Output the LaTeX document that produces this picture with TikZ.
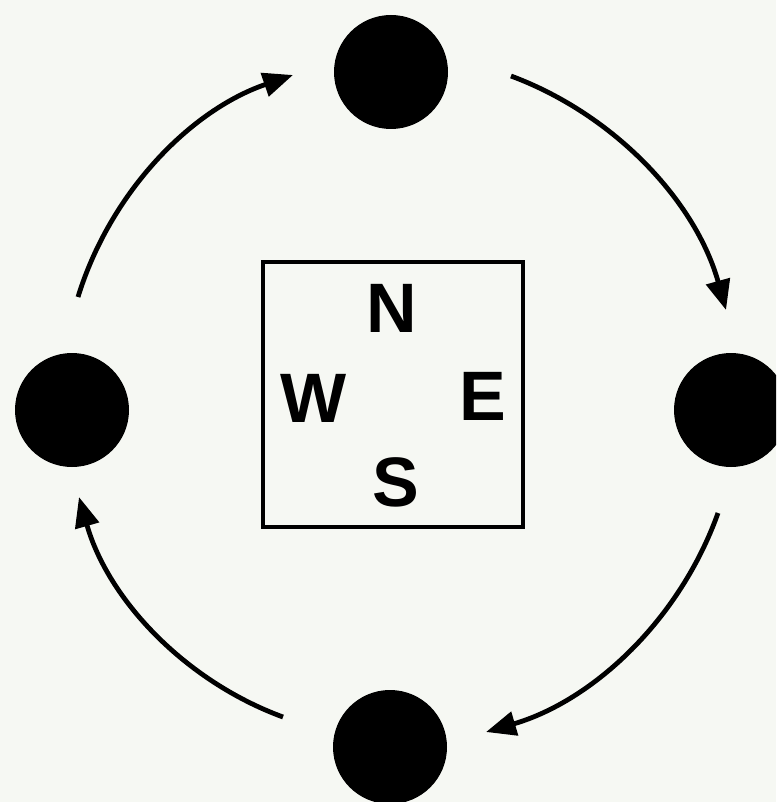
\documentclass[tikz,border=0pt]{standalone}
\usepackage{fontspec}
\setmainfont{Liberation Sans}
\usetikzlibrary{arrows.meta}
\definecolor{bg}{RGB}{246,248,243}
\begin{document}
\begin{tikzpicture}[x=1pt,y=-1pt,
  dot/.style={circle,fill=black,minimum size=114pt,inner sep=0pt},
  letter/.style={font=\fontsize{70}{70}\selectfont\bfseries,inner sep=0pt},
  cyc/.style={line width=4.8pt,-{Triangle[length=30pt,width=24pt]},bend left=27,looseness=0.9},
  frame/.style={draw,line width=3.5pt,fill=none}]
\useasboundingbox (0,0) rectangle (776,802);
\clip (0,0) rectangle (776,802);
\fill[bg] (0,0) rectangle (776,802);
% circles
\node[dot] (top) at (391,72) {};
\node[dot] (left) at (72,410) {};
\node[dot] (right) at (731,410) {};
\node[dot] (bottom) at (390,747) {};
% compass box
\node[frame,minimum width=260pt,minimum height=265pt] (box) at (393,394.5) {};
\node[letter] (n) at (392,308) {N};
\node[letter] (w) at (314,398) {W};
\node[letter] (e) at (483,396) {E};
\node[letter] (s) at (396,482) {S};
% arrow endpoints
\coordinate (a1) at (78,297);
\coordinate (a2) at (293,75);
\coordinate (b1) at (511,76);
\coordinate (b2) at (726,310);
\coordinate (c1) at (718,513);
\coordinate (c2) at (486,732);
\coordinate (d1) at (283,717);
\coordinate (d2) at (79,497);
\draw[cyc] (a1) to (a2);
\draw[cyc] (b1) to (b2);
\draw[cyc] (c1) to (c2);
\draw[cyc] (d1) to (d2);
\end{tikzpicture}
\end{document}
